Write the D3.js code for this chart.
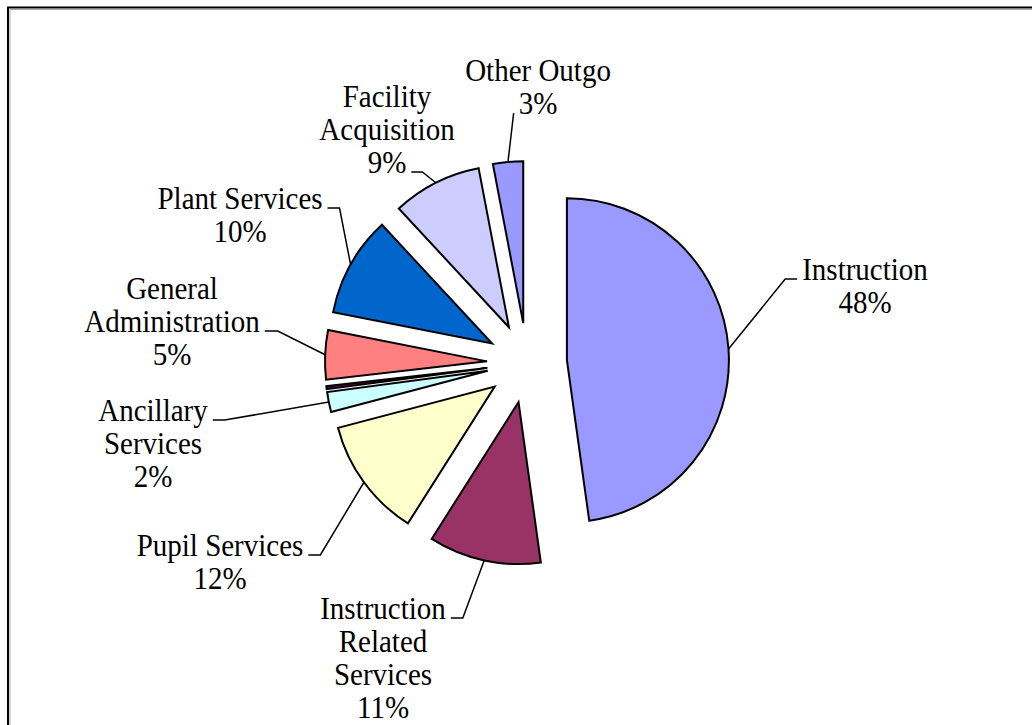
<!DOCTYPE html>
<html>
<head>
<meta charset="utf-8">
<script src="https://cdn.jsdelivr.net/npm/d3@7"></script>
<style>
  html, body { margin: 0; padding: 0; background: #fff; }
  svg { display: block; }
  .lbl { font-family: "Liberation Serif", "Times New Roman", serif; font-size: 29px; fill: #000; }
</style>
</head>
<body>
<div id="chart"></div>
<script>
// expenditure by function (share of total, %)
const categories = [
  "Instruction",
  "Instruction Related Services",
  "Pupil Services",
  "Ancillary Services",
  "Community Services",
  "General Administration",
  "Plant Services",
  "Facility Acquisition",
  "Other Outgo"
];
const values = [47.8, 11.2, 11.9, 2.0, 0.3, 4.9, 10.0, 8.9, 3.0];
// how each label breaks into lines (null = label not shown)
const labelLines = [
  ["Instruction"],
  ["Instruction", "Related", "Services"],
  ["Pupil Services"],
  ["Ancillary", "Services"],
  null,
  ["General", "Administration"],
  ["Plant Services"],
  ["Facility", "Acquisition"],
  ["Other Outgo"]
];
const colors = ["#9999ff", "#993366", "#ffffcc", "#ccffff", "#660066",
                "#ff8080", "#0066cc", "#ccccff", "#9999ff"];

// label placement (dragged by hand in the original): centre x, first baseline,
// line the leader attaches to, side of the text, length of the elbow
const labelLayout = [
  { x: 865, y: 280, line: 0, side: "left",  elbow: 12 },
  { x: 383, y: 619, line: 0, side: "right", elbow: 12 },
  { x: 220, y: 556, line: 0, side: "right", elbow: 12 },
  { x: 153, y: 421, line: 0, side: "right", elbow: 12 },
  null,
  { x: 172, y: 299, line: 1, side: "right", elbow: 13 },
  { x: 240, y: 209, line: 0, side: "right", elbow: 12 },
  { x: 387, y: 107, line: 2, side: "right", elbow: 11 },
  { x: 538, y: 81,  line: 1, side: "left",  elbow: 0 }
];

const width = 1032, height = 725;
const cx = 527, cy = 363, radius = 162, explode = 40, lineH = 33;
const stretch = 1.08; // the original glyphs are a little taller than wide

const svg = d3.select("#chart").append("svg")
  .attr("width", width).attr("height", height);

// frame
svg.append("path")
  .attr("d", `M8,${height} V7.5 H${width}`)
  .attr("fill", "none").attr("stroke", "#000").attr("stroke-width", 2);
svg.append("path")
  .attr("d", `M10,${height} V9.5 H${width}`)
  .attr("fill", "none").attr("stroke", "#aaa").attr("stroke-width", 1);

const data = categories.map((c, i) => ({ name: c, value: values[i], i }));
const pie = d3.pie().value(d => d.value).sort(null);
const arcs = pie(data);

const arc = d3.arc().innerRadius(0).outerRadius(radius);
const rimArc = d3.arc().innerRadius(radius).outerRadius(radius);

const g = svg.append("g").attr("transform", `translate(${cx},${cy})`);

function offset(d) {
  const a = (d.startAngle + d.endAngle) / 2;
  return [Math.sin(a) * explode, -Math.cos(a) * explode];
}

g.selectAll("path.slice")
  .data(arcs)
  .join("path")
  .attr("class", "slice")
  .attr("transform", d => `translate(${offset(d)})`)
  .attr("d", arc)
  .attr("fill", d => colors[d.data.i])
  .attr("stroke", "#000")
  .attr("stroke-width", 2)
  .attr("stroke-linejoin", "miter");

const pct = d3.format(".0f");

arcs.forEach(d => {
  const i = d.data.i;
  const lay = labelLayout[i];
  if (!lay || !labelLines[i]) return;
  const lines = labelLines[i].concat([pct(d.data.value) + "%"]);

  const text = svg.append("text")
    .attr("class", "lbl")
    .attr("text-anchor", "middle")
    .attr("transform", `translate(${lay.x},${lay.y}) scale(1,${stretch})`);
  const spans = lines.map((t, k) => text.append("tspan")
    .attr("x", 0)
    .attr("y", k * lineH / stretch)
    .text(t));

  // leader line: rim point of the exploded slice -> elbow -> next to the text
  const w = spans[lay.line].node().getComputedTextLength();
  const ly = lay.y + lay.line * lineH - 1;
  const edge = lay.side === "left" ? lay.x - w / 2 - 5 : lay.x + w / 2 + 5;
  const elbowX = lay.side === "left" ? edge - lay.elbow : edge + lay.elbow;
  const o = offset(d);
  const rim = rimArc.centroid(d);
  const p0 = [cx + o[0] + rim[0], cy + o[1] + rim[1]];

  svg.append("path")
    .attr("d", d3.line()([p0, [elbowX, ly], [edge, ly]]))
    .attr("fill", "none")
    .attr("stroke", "#000")
    .attr("stroke-width", 1.5);
});
</script>
</body>
</html>
